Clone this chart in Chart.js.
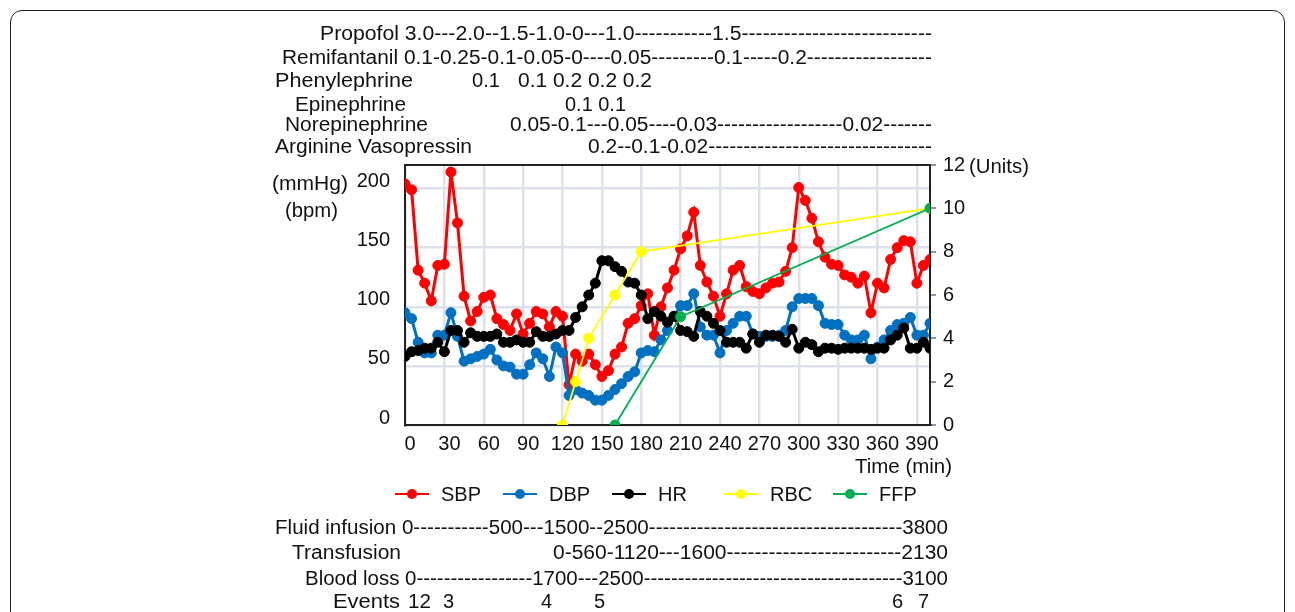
<!DOCTYPE html>
<html lang="en">
<head>
<meta charset="utf-8">
<title>Intraoperative course</title>
<script src="https://cdn.jsdelivr.net/npm/chart.js@4.4.1/dist/chart.umd.min.js"></script>
<style>
  html, body { margin: 0; padding: 0; background: #fff; }
  body { width: 1295px; height: 612px; position: relative; overflow: hidden; font-family: "Liberation Sans", Arial, sans-serif; }
  #frame { position: absolute; left: 10px; top: 10px; width: 1273px; height: 650px; border: 1.6px solid #222; border-radius: 12px; }
  canvas { position: absolute; left: 0; top: 0; }
  .t { position: absolute; font-size: 20px; line-height: 22px; white-space: pre; color: #111; transform-origin: 0 50%; }
</style>
</head>
<body>
<div id="frame"></div>
<canvas id="chart" width="1295" height="612"></canvas>

<div class="t" style="left:320px;top:22px" data-w="612">Propofol 3.0---2.0--1.5-1.0-0---1.0-----------1.5---------------------------</div>
<div class="t" style="left:282px;top:46px" data-w="650">Remifantanil 0.1-0.25-0.1-0.05-0----0.05---------0.1-----0.2------------------</div>
<div class="t" style="left:275px;top:69px" data-w="138">Phenylephrine</div>
<div class="t" style="left:472px;top:69px" data-w="28">0.1</div>
<div class="t" style="left:518px;top:69px" data-w="134">0.1 0.2 0.2 0.2</div>
<div class="t" style="left:295px;top:93px" data-w="111">Epinephrine</div>
<div class="t" style="left:565px;top:93px" data-w="61">0.1 0.1</div>
<div class="t" style="left:285px;top:113px" data-w="143">Norepinephrine</div>
<div class="t" style="left:510px;top:113px" data-w="422">0.05-0.1---0.05----0.03------------------0.02-------</div>
<div class="t" style="left:275px;top:135px" data-w="197">Arginine Vasopressin</div>
<div class="t" style="left:588px;top:135px" data-w="344">0.2--0.1-0.02--------------------------------</div>

<div class="t" style="left:272px;top:172px" data-w="76">(mmHg)</div>
<div class="t" style="left:285px;top:199px" data-w="53">(bpm)</div>
<div class="t" style="left:969px;top:155px" data-w="60">(Units)</div>
<div class="t" style="left:855px;top:455px" data-w="97">Time (min)</div>

<div class="t" style="left:275px;top:516px" data-w="673">Fluid infusion 0-----------500---1500--2500-------------------------------------3800</div>
<div class="t" style="left:292px;top:541px" data-w="109">Transfusion</div>
<div class="t" style="left:553px;top:541px" data-w="395">0-560-1120---1600-------------------------2130</div>
<div class="t" style="left:305px;top:567px" data-w="643">Blood loss 0-----------------1700---2500--------------------------------------3100</div>
<div class="t" style="left:333px;top:590px" data-w="67">Events</div>
<div class="t" style="left:408px;top:590px" data-w="23">12</div>
<div class="t" style="left:443px;top:590px">3</div>
<div class="t" style="left:541px;top:590px">4</div>
<div class="t" style="left:594px;top:590px">5</div>
<div class="t" style="left:892px;top:590px">6</div>
<div class="t" style="left:918px;top:590px">7</div>

<script>
// time in minutes, one reading every 5 min
const times = [0, 5, 10, 15, 20, 25, 30, 35, 40, 45, 50, 55, 60, 65, 70, 75, 80, 85, 90, 95,
    100, 105, 110, 115, 120, 125, 130, 135, 140, 145, 150, 155, 160, 165, 170, 175, 180, 185, 190, 195,
    200, 205, 210, 215, 220, 225, 230, 235, 240, 245, 250, 255, 260, 265, 270, 275, 280, 285, 290, 295,
    300, 305, 310, 315, 320, 325, 330, 335, 340, 345, 350, 355, 360, 365, 370, 375, 380, 385, 390, 395, 400];

const sbp = [204, 199, 131, 120, 105, 135, 136, 214, 171, 109, 88, 96, 108, 110, 90, 85, 80, 94, 77, 86,
    96, 94, 83, 96, 92, 34, 60, 54, 60, 51, 41, 46, 60, 66, 86, 90, 101, 111, 76, 100,
    116, 131, 149, 160, 180, 135, 121, 109, 92, 111, 131, 135, 117, 113, 111, 116, 120, 121, 130, 150,
    201, 190, 175, 155, 142, 136, 135, 127, 125, 120, 126, 95, 120, 116, 140, 150, 156, 155, 120, 135, 140];

const dbp = [95, 90, 70, 61, 61, 76, 76, 95, 75, 54, 56, 58, 60, 64, 55, 50, 49, 43, 43, 51,
    61, 56, 41, 66, 61, 25, 30, 27, 25, 21, 21, 25, 30, 35, 41, 45, 61, 63, 62, 72,
    80, 92, 101, 101, 111, 83, 76, 76, 61, 80, 86, 92, 92, 77, 75, 75, 75, 76, 80, 100,
    107, 107, 107, 101, 86, 85, 85, 76, 72, 72, 76, 56, 66, 72, 80, 85, 86, 91, 76, 76, 86];

const hr = [58, 62, 63, 65, 65, 70, 62, 80, 80, 70, 78, 75, 75, 75, 77, 70, 70, 72, 70, 70,
    79, 75, 75, 77, 80, 80, 91, 100, 110, 120, 139, 139, 134, 130, 121, 120, 110, 90, 96, 92,
    87, 92, 80, 79, 75, 96, 92, 86, 80, 70, 70, 70, 65, 77, 70, 76, 76, 75, 70, 81,
    65, 70, 68, 62, 65, 65, 64, 65, 65, 65, 65, 64, 65, 65, 72, 76, 82, 65, 65, 70, 65];

// transfusions, cumulative units (right axis)
const rbcTimes = [120, 130, 140, 160, 180, 400];
const rbcUnits = [0, 2, 4, 6, 8, 10];
const ffpTimes = [160, 210, 400];
const ffpUnits = [0, 5, 10];

const timeTicks = [0, 30, 60, 90, 120, 150, 180, 210, 240, 270, 300, 330, 360, 390];
const leftTicks = [0, 50, 100, 150, 200];
const rightTicks = [0, 2, 4, 6, 8, 10, 12];
const seriesNames = ['SBP', 'DBP', 'HR', 'RBC', 'FFP'];
const seriesColors = ['#ff0000', '#0070c0', '#000000', '#ffff00', '#00b050'];

const pts = (xs, ys) => xs.map((x, i) => ({ x: x, y: ys[i] }));
const font = { family: '"Liberation Sans", Arial, sans-serif', size: 20 };

const vital = (i, data) => ({
    label: seriesNames[i], data: data, yAxisID: 'y',
    borderColor: seriesColors[i], backgroundColor: seriesColors[i],
    borderWidth: 3, pointRadius: 5, pointBorderWidth: 1, tension: 0, order: 5 - i
});
const blood = (i, data) => ({
    label: seriesNames[i], data: data, yAxisID: 'y1',
    borderColor: seriesColors[i], backgroundColor: seriesColors[i],
    borderWidth: 1.8, pointRadius: 5, pointBorderWidth: 1, tension: 0, order: 5 - i
});

// black box round the plot area
const plotFrame = {
    id: 'plotFrame',
    beforeDatasetsDraw(chart) {
        const a = chart.chartArea, c = chart.ctx;
        c.save();
        c.strokeStyle = '#222';
        c.lineWidth = 2;
        c.strokeRect(a.left, a.top, a.right - a.left, a.bottom - a.top);
        c.restore();
    }
};

// legend with line + dot markers, as in the figure
const lineLegend = {
    id: 'lineLegend',
    afterDraw(chart) {
        const c = chart.ctx;
        const xs = [395, 503, 612, 724, 833];
        const y = 494;
        c.save();
        c.font = '20px "Liberation Sans", Arial, sans-serif';
        c.textBaseline = 'middle';
        xs.forEach((x, i) => {
            c.strokeStyle = seriesColors[i];
            c.fillStyle = seriesColors[i];
            c.lineWidth = 2;
            c.beginPath();
            c.moveTo(x, y);
            c.lineTo(x + 34, y);
            c.stroke();
            c.beginPath();
            c.arc(x + 17, y, 5, 0, Math.PI * 2);
            c.fill();
            c.fillStyle = '#111';
            c.fillText(seriesNames[i], x + 46, y + 1);
        });
        c.restore();
    }
};

new Chart(document.getElementById('chart'), {
    type: 'line',
    data: {
        datasets: [
            vital(0, pts(times, sbp)),
            vital(1, pts(times, dbp)),
            vital(2, pts(times, hr)),
            blood(3, pts(rbcTimes, rbcUnits)),
            blood(4, pts(ffpTimes, ffpUnits))
        ]
    },
    options: {
        responsive: false,
        animation: false,
        devicePixelRatio: 1,
        layout: { padding: { top: 165, left: 0, right: 0, bottom: 0 } },
        plugins: { legend: { display: false }, tooltip: { enabled: false } },
        scales: {
            x: {
                type: 'linear', min: 0, max: 400,
                afterBuildTicks: s => { s.ticks = timeTicks.map(v => ({ value: v })); },
                afterFit: s => { s.height = 187; },
                grid: { color: '#dde2ea', lineWidth: 2.5, drawTicks: false },
                border: { display: true, color: '#222', width: 2 },
                ticks: { font: font, color: '#111', padding: 7, labelOffset: 5, maxRotation: 0, autoSkip: false }
            },
            y: {
                position: 'left', min: 0, max: 220,
                afterBuildTicks: s => { s.ticks = leftTicks.map(v => ({ value: v })); },
                afterFit: s => { s.width = 405; },
                grid: { color: '#dde2ea', lineWidth: 2.5, drawTicks: false },
                border: { display: true, color: '#222', width: 2 },
                ticks: { font: font, color: '#111', padding: 15, labelOffset: -7 }
            },
            y1: {
                position: 'right', min: 0, max: 12,
                afterBuildTicks: s => { s.ticks = rightTicks.map(v => ({ value: v })); },
                afterFit: s => { s.width = 365; },
                grid: { drawOnChartArea: false, drawTicks: true, tickLength: 6, color: '#8c96a8', lineWidth: 2 },
                border: { display: true, color: '#222', width: 2 },
                ticks: { font: font, color: '#111', padding: 7 }
            }
        }
    },
    plugins: [plotFrame, lineLegend]
});

// stretch each text line to the width it has in the figure
document.querySelectorAll('.t[data-w]').forEach(el => {
    const w = el.getBoundingClientRect().width;
    el.style.transform = 'scaleX(' + (el.dataset.w / w) + ')';
});
</script>
</body>
</html>
